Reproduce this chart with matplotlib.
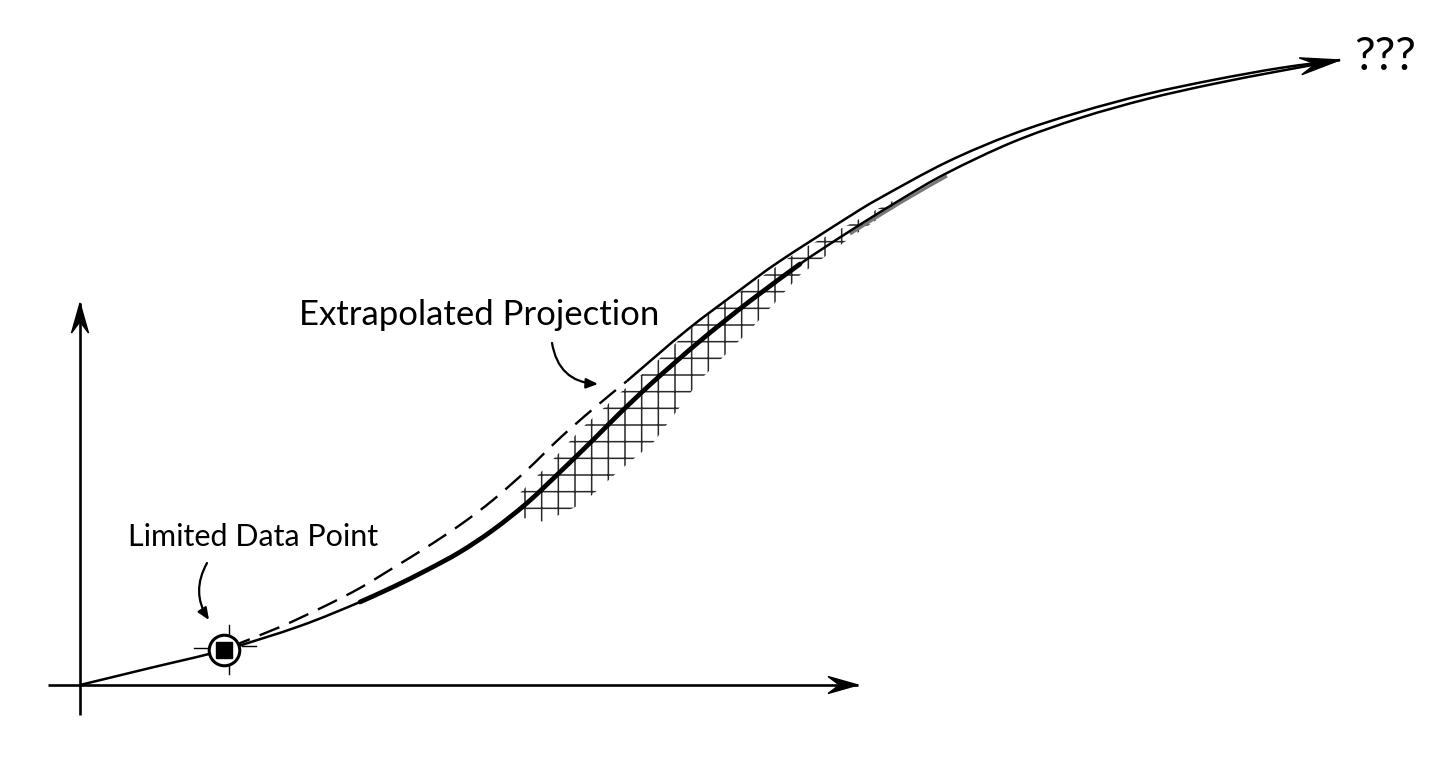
import numpy as np
import matplotlib.pyplot as plt
from matplotlib.patches import Polygon, PathPatch
from matplotlib.path import Path
from matplotlib.transforms import IdentityTransform

# sketch units: origin of the drawn axes is (0, 0)
axis_x_end = [-0.32, 7.78]
axis_y_end = [-0.30, 3.82]

# measured curve (solid, lower)
base_x = [0.0, 0.70, 1.44, 2.20, 2.80, 3.13, 3.47, 3.80, 4.13, 4.47, 4.80, 5.13, 5.40,
          5.73, 6.20, 6.70, 7.20, 7.70, 8.20, 8.67, 9.33, 10.00, 10.67, 11.33, 12.00, 12.60]
base_y = [0.0, 0.17, 0.35, 0.59, 0.83, 0.98, 1.15, 1.33, 1.55, 1.82, 2.13, 2.45, 2.72,
          3.03, 3.44, 3.84, 4.21, 4.54, 4.85, 5.12, 5.43, 5.67, 5.86, 6.01, 6.14, 6.25]

# extrapolated projection (upper), dashed until dash_end
proj_x = [1.50, 2.00, 2.43, 2.80, 3.13, 3.47, 3.80, 4.13, 4.47, 4.80, 5.13, 5.47, 6.07,
          6.60, 7.00, 7.70, 8.00, 8.67, 9.33, 10.00, 10.67, 11.33, 12.00, 12.60]
proj_y = [0.38, 0.58, 0.78, 0.97, 1.17, 1.38, 1.60, 1.85, 2.15, 2.47, 2.76, 3.04, 3.55,
          3.95, 4.24, 4.69, 4.87, 5.23, 5.51, 5.73, 5.91, 6.05, 6.17, 6.25]
dash_end = 5.47

# hatched uncertainty band
band_x = [4.38, 4.65, 5.03, 5.40, 5.73, 6.20, 6.70, 7.20, 7.70, 8.20]
band_hi = [1.90, 2.17, 2.58, 2.92, 3.20, 3.65, 4.00, 4.35, 4.61, 4.88]
band_lo = [1.68, 1.63, 1.82, 2.15, 2.42, 3.05, 3.55, 4.10, 4.47, 4.81]

point_x, point_y = 1.44, 0.35

label_proj = "Extrapolated Projection"
label_point = "Limited Data Point"
label_end = "???"

fig = plt.figure(figsize=(14.48, 7.61), dpi=100)
ax = fig.add_axes([0, 0, 1, 1])
ax.set_xlim(-0.80, 13.68)
ax.set_ylim(-0.76, 6.85)
ax.axis('off')


def smooth_curve(xs, ys, **kw):
    # bezier (catmull-rom) through the given points
    pts = np.column_stack([xs, ys])
    n = len(pts)
    verts = [pts[0]]
    codes = [Path.MOVETO]
    for i in range(n - 1):
        p0 = pts[max(i - 1, 0)]
        p1, p2 = pts[i], pts[i + 1]
        p3 = pts[min(i + 2, n - 1)]
        verts += [p1 + (p2 - p0) / 6, p2 - (p3 - p1) / 6, p2]
        codes += [Path.CURVE4] * 3
    ax.add_patch(PathPatch(Path(verts, codes), facecolor='none',
                           edgecolor=kw.pop('color', 'black'), joinstyle='round', **kw))


def arrowhead(tip, prev, length=30, width=17):
    # concave sketch arrowhead, sized in pixels
    t = ax.transData.transform(tip)
    p = ax.transData.transform(prev)
    d = (t - p) / np.hypot(*(t - p))
    n = np.array([-d[1], d[0]])
    pts = [t, t - length * d + width / 2 * n, t - 0.62 * length * d,
           t - length * d - width / 2 * n]
    ax.add_patch(Polygon(pts, closed=True, color='black', transform=IdentityTransform(), zorder=6))


# axes
ax.plot(axis_x_end, [0, 0], color='black', lw=1.9, solid_capstyle='butt')
ax.plot([0, 0], axis_y_end, color='black', lw=1.9, solid_capstyle='butt')
arrowhead((axis_x_end[1], 0), (0, 0))
arrowhead((0, axis_y_end[1]), (0, 0))

# hatch band
plt.rcParams['hatch.linewidth'] = 1.1
ax.fill_between(band_x, band_lo, band_hi, facecolor='none', edgecolor='#2a2a2a',
                hatch='+', linewidth=0, zorder=2)

# lower measured curve
bx = np.array(base_x)
by = np.array(base_y)
smooth_curve(bx, by, lw=1.8, zorder=4)
thick = (bx >= 2.5) & (bx <= 7.4)
smooth_curve(bx[thick], by[thick], lw=3.4, capstyle='round', zorder=4)
# pencil smudge along the curve where the band fades out
fade = (bx >= 7.4) & (bx <= 8.7)
smooth_curve(bx[fade], by[fade] - 0.03, lw=2.2, color='#777777', zorder=3)

# upper projection
px = np.array(proj_x)
py = np.array(proj_y)
k = int(np.searchsorted(px, dash_end)) + 1
smooth_curve(px[:k], py[:k], lw=1.7, linestyle=(0, (9, 4.5)), zorder=4)
smooth_curve(px[k - 1:], py[k - 1:], lw=1.8, zorder=4)
arrowhead((proj_x[-1], proj_y[-1]), (proj_x[-2], (proj_y[-2] + base_y[-2]) / 2), length=40, width=17)

# data point marker
ax.plot(point_x, point_y, marker='o', ms=22, mfc='white', mec='black', mew=2.2, zorder=5)
ax.plot(point_x, point_y, marker='s', ms=12, mfc='black', mec='black', zorder=6)
for dx, dy in [(-0.30, 0.02), (0.18, 0.04)]:
    ax.plot([point_x + dx, point_x + dx + 0.14], [point_y + dy, point_y + dy],
            color='black', lw=1.0, zorder=5)
for dy in [0.16, -0.15]:
    ax.plot([point_x + 0.05, point_x + 0.05], [point_y + dy, point_y + dy + np.sign(dy) * 0.09],
            color='black', lw=1.0, zorder=5)

# labels
txt = dict(family=['Lato', 'DejaVu Sans'], color='black', ha='center', va='center')
ax.text(3.99, 3.70, label_proj, fontsize=25, **txt)
ax.text(1.73, 1.48, label_point, fontsize=22, **txt)
ax.text(13.05, 6.28, label_end, fontsize=33, **txt)

ax.annotate('', xy=(1.29, 0.65), xytext=(1.27, 1.22),
            arrowprops=dict(arrowstyle='-|>,head_length=0.7,head_width=0.3', lw=1.6,
                            color='black', connectionstyle='arc3,rad=0.3', shrinkA=0, shrinkB=0))
ax.annotate('', xy=(5.18, 3.01), xytext=(4.72, 3.42),
            arrowprops=dict(arrowstyle='-|>,head_length=0.7,head_width=0.3', lw=1.6,
                            color='black', connectionstyle='arc3,rad=0.4', shrinkA=0, shrinkB=0))

fig.savefig('out.png', dpi=100, facecolor='white')
